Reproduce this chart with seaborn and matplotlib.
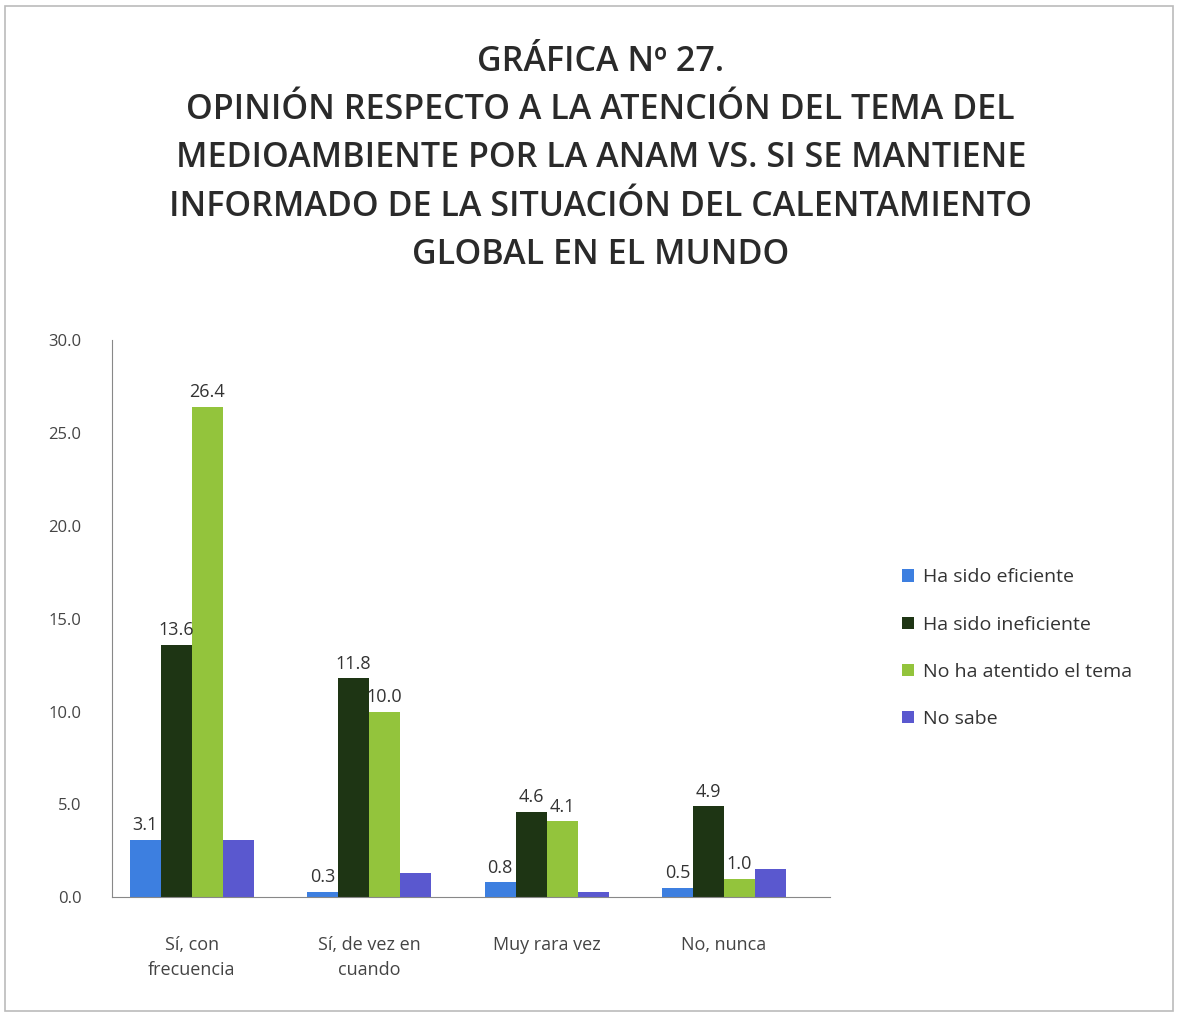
import numpy as np
import pandas as pd
import matplotlib.pyplot as plt
import seaborn as sns

categorias = ["Sí, con\nfrecuencia", "Sí, de vez en\ncuando", "Muy rara vez", "No, nunca"]
series = ["Ha sido eficiente", "Ha sido ineficiente", "No ha atentido el tema", "No sabe"]
eficiente = [3.1, 0.3, 0.8, 0.5]
ineficiente = [13.6, 11.8, 4.6, 4.9]
no_atendido = [26.4, 10.0, 4.1, 1.0]
no_sabe = [3.1, 1.3, 0.3, 1.5]
colores = ["#3d7fe0", "#1e3514", "#93c43c", "#5a58cf"]

df = pd.DataFrame({
    "cat": categorias * 4,
    "serie": np.repeat(series, 4),
    "valor": eficiente + ineficiente + no_atendido + no_sabe,
})

sns.set_style("white")
plt.rcParams['font.family'] = ['Open Sans', 'DejaVu Sans']

fig = plt.figure(figsize=(11.78, 10.15), dpi=100)
ax = fig.add_axes([0.095, 0.116, 0.61, 0.549])
sns.barplot(data=df, x="cat", y="valor", hue="serie", palette=colores,
            order=categorias, hue_order=series, width=0.7, ax=ax,
            saturation=1, edgecolor="none", legend=True)

# etiquetas de datos (la serie "No sabe" no lleva)
for cont in ax.containers[:3]:
    ax.bar_label(cont, fmt="%.1f", padding=4, fontsize=13, color="#333333")

ax.set_ylim(0, 30)
ax.set_yticks(np.arange(0, 30.1, 5))
ax.set_yticklabels([f"{v:.1f}" for v in np.arange(0, 30.1, 5)], fontsize=12, color="#444444")
ax.set_xlim(-0.45, 3.6)
ax.tick_params(axis="x", labelsize=13, colors="#444444", pad=28, length=0)
ax.tick_params(axis="y", pad=22, length=0)
for lab in ax.get_xticklabels():
    lab.set_linespacing(1.5)
ax.set_xlabel("")
ax.set_ylabel("")
for s in ["top", "right"]:
    ax.spines[s].set_visible(False)
ax.spines["left"].set_color("#888888")
ax.spines["bottom"].set_color("#888888")

leg = ax.legend(loc="center left", bbox_to_anchor=(1.075, 0.447), frameon=False,
                fontsize=14, handlelength=0.6, handleheight=0.6,
                labelspacing=1.5, handletextpad=0.5)
for t in leg.get_texts():
    t.set_color("#333333")

fig.text(0.51, 0.956,
         "GRÁFICA Nº 27.\nOPINIÓN RESPECTO A LA ATENCIÓN DEL TEMA DEL\n"
         "MEDIOAMBIENTE POR LA ANAM VS. SI SE MANTIENE\n"
         "INFORMADO DE LA SITUACIÓN DEL CALENTAMIENTO\nGLOBAL EN EL MUNDO",
         ha="center", va="top", fontsize=24.5, fontweight="semibold",
         color="#2a2a2a", linespacing=1.55)

fig.patches.append(plt.Rectangle((0.004, 0.004), 0.992, 0.99, transform=fig.transFigure,
                                 fill=False, edgecolor="#bbbbbb", linewidth=1.2))

fig.savefig("out.png", dpi=100)
